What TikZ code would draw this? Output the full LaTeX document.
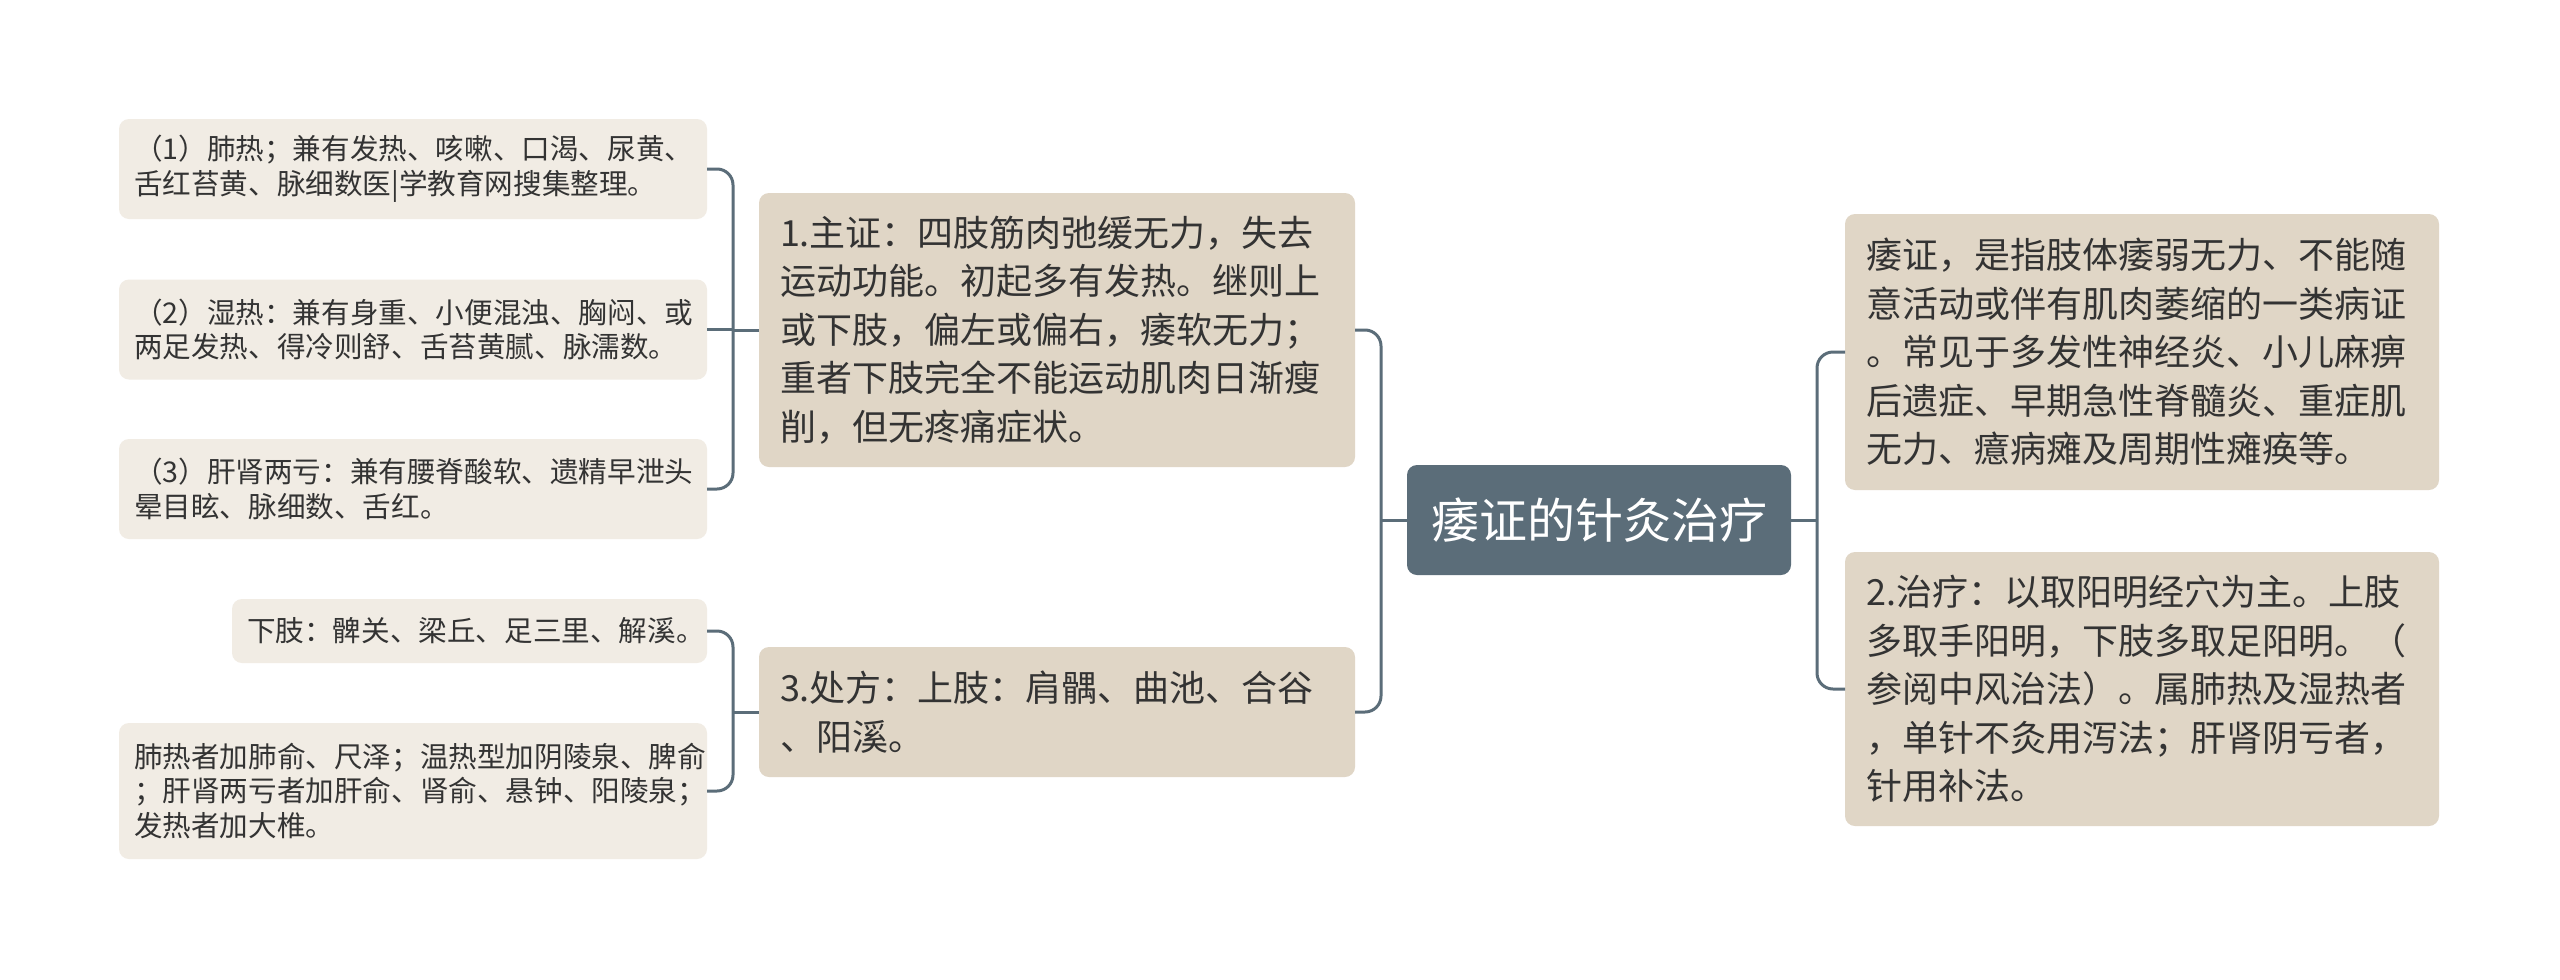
\documentclass[tikz,border=0pt]{standalone}
\usepackage{fontspec}
\setmainfont{Noto Sans CJK SC}
\definecolor{leafc}{HTML}{F1ECE4}
\definecolor{midc}{HTML}{E0D6C6}
\definecolor{rootc}{HTML}{5B6D79}
\definecolor{linec}{HTML}{5B6D79}
\definecolor{txt}{HTML}{333333}
\begin{document}
\begin{tikzpicture}[x=0.5pt,y=-0.5pt,
  box/.style={rounded corners=5pt, text=txt, align=left, outer sep=0pt, inner ysep=0pt},
  leaf/.style={box, fill=leafc, inner xsep=7.5pt, font=\fontsize{14.3pt}{17.3pt}\selectfont},
  mid/.style={box, fill=midc, inner xsep=10.5pt, font=\fontsize{18pt}{24.3pt}\selectfont},
  root/.style={box, fill=rootc, text=white, align=center, inner xsep=0pt, font=\fontsize{24pt}{28pt}\selectfont},
  conn/.style={draw=linec, line width=1.5pt, rounded corners=8pt}
]
\useasboundingbox[fill=white] (0,0) rectangle (2560,980);

% left leaves
\node[leaf, text width=279pt, minimum height=50pt] (b1) at (413,169)
  {（1）肺热；兼有发热、咳嗽、口渴、尿黄、\\舌红苔黄、脉细数医|学教育网搜集整理。};
\node[leaf, text width=279pt, minimum height=50pt] (b2) at (413,329.5)
  {（2）湿热：兼有身重、小便混浊、胸闷、或\\两足发热、得冷则舒、舌苔黄腻、脉濡数。};
\node[leaf, text width=279pt, minimum height=50pt] (b3) at (413,489)
  {（3）肝肾两亏：兼有腰脊酸软、遗精早泄头\\晕目眩、脉细数、舌红。};
\node[leaf, text width=222.5pt, minimum height=32pt] (b4) at (469.5,631)
  {下肢：髀关、梁丘、足三里、解溪。};
\node[leaf, text width=279pt, minimum height=68pt] (b5) at (413,791)
  {肺热者加肺俞、尺泽；温热型加阴陵泉、脾俞\\；肝肾两亏者加肝俞、肾俞、悬钟、阳陵泉；\\发热者加大椎。};

% middle
\node[mid, text width=277pt, minimum height=137pt] (m1) at (1057,330)
  {1.主证：四肢筋肉弛缓无力，失去\\运动功能。初起多有发热。继则上\\或下肢，偏左或偏右，痿软无力；\\重者下肢完全不能运动肌肉日渐瘦\\削，但无疼痛症状。};
\node[mid, text width=277pt, minimum height=65pt] (m2) at (1057,712)
  {3.处方：上肢：肩髃、曲池、合谷\\、阳溪。};

% root
\node[root, minimum width=192pt, minimum height=55pt] (c) at (1599,520) {痿证的针灸治疗};

% right
\node[mid, text width=276pt, minimum height=138pt] (r1) at (2142,352)
  {痿证，是指肢体痿弱无力、不能随\\意活动或伴有肌肉萎缩的一类病证\\。常见于多发性神经炎、小儿麻痹\\后遗症、早期急性脊髓炎、重症肌\\无力、癔病瘫及周期性瘫痪等。};
\node[mid, text width=276pt, minimum height=137pt] (r2) at (2142,689)
  {2.治疗：以取阳明经穴为主。上肢\\多取手阳明，下肢多取足阳明。（\\参阅中风治法）。属肺热及湿热者\\，单针不灸用泻法；肝肾阴亏者，\\针用补法。};

% junctions
\coordinate (jc) at (1381,520);
\coordinate (jr) at (1817,520);
\coordinate (j1) at (733,330);
\coordinate (j2) at (733,712);

% connectors
\draw[conn] (c.west) -- (jc);
\draw[conn] (m1.east) -| (jc |- m2.east) -- (m2.east);
\draw[conn] (c.east) -- (jr);
\draw[conn] (r1.west) -| (jr |- r2.west) -- (r2.west);
\draw[conn] (b1.east) -| (j1 |- b3.east) -- (b3.east);
\draw[conn] (b2.east) -- (j1 |- b2.east);
\draw[conn] (m1.west) -- (j1 |- m1.west);
\draw[conn] (b4.east) -| (j2 |- b5.east) -- (b5.east);
\draw[conn] (m2.west) -- (j2 |- m2.west);
\end{tikzpicture}
\end{document}
